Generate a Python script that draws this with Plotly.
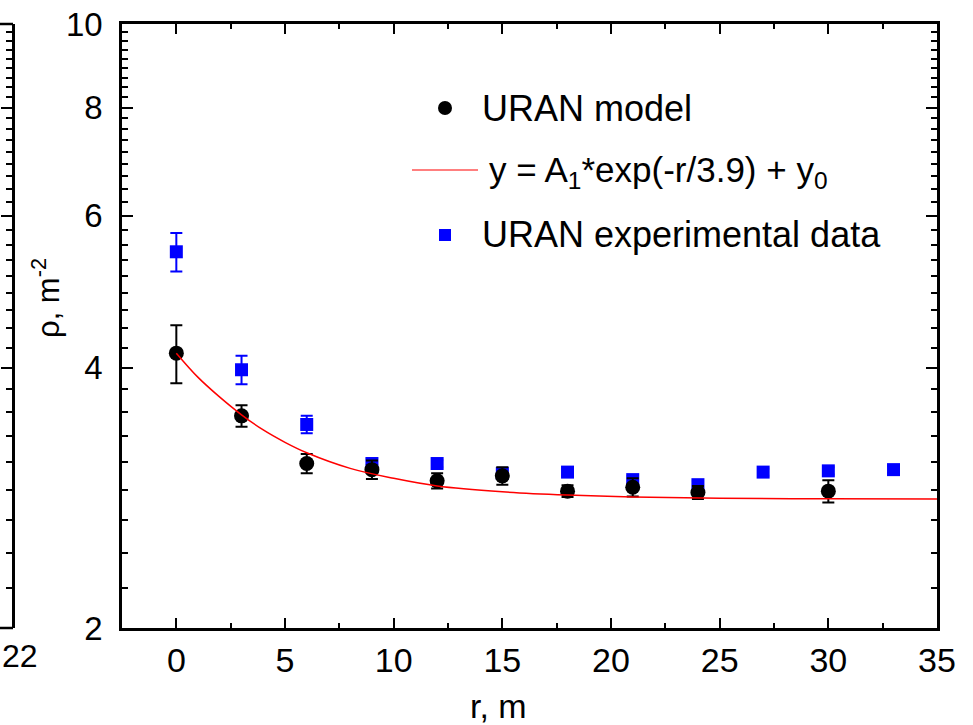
import plotly.graph_objects as go

# ---------------- data ----------------
r_model = [0, 3, 6, 9, 12, 15, 18, 21, 24, 30]
rho_model = [4.16, 3.52, 3.10, 3.05, 2.96, 3.00, 2.88, 2.91, 2.87, 2.88]
err_model = [0.32, 0.10, 0.08, 0.075, 0.06, 0.07, 0.045, 0.07, 0.05, 0.085]

r_exp = [0, 3, 6, 9, 12, 15, 18, 21, 24, 27, 30, 33]
rho_exp = [5.45, 3.98, 3.44, 3.10, 3.10, 3.02, 3.03, 2.97, 2.93, 3.03, 3.04, 3.05]
err_exp = [0.28, 0.15, 0.08, 0.04, 0.03, 0.03, 0.03, 0.03, 0.03, 0.03, 0.03, 0.03]

r_fit = [0, 1, 2, 3, 4, 5, 6, 8, 10, 12, 15, 18, 21, 25, 30, 35]
rho_fit = [4.16, 3.90, 3.70, 3.53, 3.39, 3.28, 3.19, 3.06, 2.98, 2.92, 2.875, 2.85,
           2.835, 2.826, 2.822, 2.82]

x_ticks = [0, 5, 10, 15, 20, 25, 30, 35]
y_ticks = [2, 4, 6, 8, 10]
y_minor = [2 + k * 2 / 9 for k in range(1, 36) if k % 9 != 0]

label_model = "URAN model"
label_fit = "y = A<sub>1</sub>*exp(-r/3.9) + y<sub>0</sub>"
label_exp = "URAN experimental data"
x_title = "r, m"
y_title = "ρ, m<sup>-2</sup>"
left_panel_label = "22"

# ---------------- geometry helpers ----------------
W, H = 973, 725
ML, MR, MT, MB = 0, 36, 24, 97
PW, PH = W - ML - MR, H - MT - MB


def px(xp):
    return (xp - ML) / PW


def py(yp):
    return (H - MB - yp) / PH


FONT = "Liberation Sans, Arial, sans-serif"

fig = go.Figure()

fig.add_trace(go.Scatter(
    x=r_exp, y=rho_exp, mode="markers", name=label_exp,
    marker=dict(symbol="square", size=13, color="#0000FF", line=dict(width=0)),
    error_y=dict(type="data", array=err_exp, color="#0000FF", thickness=2, width=6),
    showlegend=False))

fig.add_trace(go.Scatter(
    x=r_model, y=rho_model, mode="markers", name=label_model,
    marker=dict(symbol="circle", size=15, color="#000000", line=dict(width=0)),
    error_y=dict(type="data", array=err_model, color="#000000", thickness=2, width=6),
    showlegend=False))

fig.add_trace(go.Scatter(
    x=r_fit, y=rho_fit, mode="lines", name="fit",
    line=dict(color="#FF0000", width=1.5, shape="spline"),
    showlegend=False))

# dummy trace for the partial left panel axis
fig.add_trace(go.Scatter(x=[None], y=[None], yaxis="y2", showlegend=False,
                         hoverinfo="skip"))

axis_common = dict(showgrid=False, zeroline=False, showline=True,
                   linecolor="black", linewidth=2.5, mirror="ticks",
                   ticks="inside", tickcolor="black", tickwidth=2)

fig.update_layout(
    width=W, height=H,
    margin=dict(l=ML, r=MR, t=MT, b=MB),
    paper_bgcolor="white", plot_bgcolor="white",
    showlegend=False,
    xaxis=dict(domain=[px(122), 1], range=[-2.5, 35], tickmode="array",
               tickvals=x_ticks, ticktext=[str(v) for v in x_ticks],
               ticklen=10,
               minor=dict(dtick=2.5, tick0=0, ticks="inside", ticklen=5,
                          tickwidth=2, tickcolor="black"),
               tickfont=dict(family=FONT, size=34, color="black"),
               ticklabelstandoff=0,
               **axis_common),
    yaxis=dict(type="log", range=[0.30103, 1.0], tickmode="array",
               tickvals=y_ticks, ticktext=[str(v) for v in y_ticks],
               ticklen=11,
               minor=dict(tickmode="array", tickvals=y_minor, ticks="inside",
                          ticklen=6, tickwidth=2, tickcolor="black"),
               tickfont=dict(family=FONT, size=33, color="black"),
               ticklabelstandoff=10,
               **axis_common),
    yaxis2=dict(type="log", range=[0.30103, 1.0], overlaying="y", anchor="free",
                position=px(13), side="left", tickmode="array",
                tickvals=y_ticks, showticklabels=False, ticks="outside",
                ticklen=11, tickwidth=2, tickcolor="black",
                minor=dict(tickmode="array", tickvals=y_minor, ticks="outside",
                           ticklen=6, tickwidth=2, tickcolor="black"),
                showline=True, linecolor="black", linewidth=2.5,
                showgrid=False, zeroline=False),
)

shapes = [
    # partial left panel frame
    dict(type="line", xref="paper", yref="paper", x0=px(0), x1=px(13), y0=1, y1=1,
         line=dict(color="black", width=2.5)),
    dict(type="line", xref="paper", yref="paper", x0=px(0), x1=px(13), y0=0, y1=0,
         line=dict(color="black", width=2.5)),
    # legend symbols
    dict(type="circle", xref="paper", yref="paper",
         x0=px(438), x1=px(452), y0=py(115), y1=py(101),
         fillcolor="black", line=dict(width=0)),
    dict(type="line", xref="paper", yref="paper",
         x0=px(412), x1=px(478), y0=py(170), y1=py(170),
         line=dict(color="#FF5555", width=1.5)),
    dict(type="rect", xref="paper", yref="paper",
         x0=px(439), x1=px(451), y0=py(241), y1=py(229),
         fillcolor="#0000FF", line=dict(width=0)),
]
fig.update_layout(shapes=shapes)

ann = [
    dict(text=label_model, x=px(480), y=py(108), xanchor="left", yanchor="middle",
         font=dict(family=FONT, size=36, color="black")),
    dict(text=label_fit, x=px(487), y=py(172), xanchor="left", yanchor="middle",
         font=dict(family=FONT, size=35, color="black")),
    dict(text=label_exp, x=px(480), y=py(235), xanchor="left", yanchor="middle",
         font=dict(family=FONT, size=36, color="black")),
    dict(text=x_title, x=px(498), y=py(706), xanchor="center", yanchor="middle",
         font=dict(family=FONT, size=34, color="black")),
    dict(text=y_title, x=px(46), y=py(298), xanchor="center", yanchor="middle",
         textangle=-90, font=dict(family=FONT, size=31, color="black")),
    dict(text=left_panel_label, x=px(40), y=py(656), xanchor="right", yanchor="middle",
         font=dict(family=FONT, size=32, color="black")),
]
for a in ann:
    a.update(xref="paper", yref="paper", showarrow=False)
fig.update_layout(annotations=ann)

fig.write_html("out.html")
